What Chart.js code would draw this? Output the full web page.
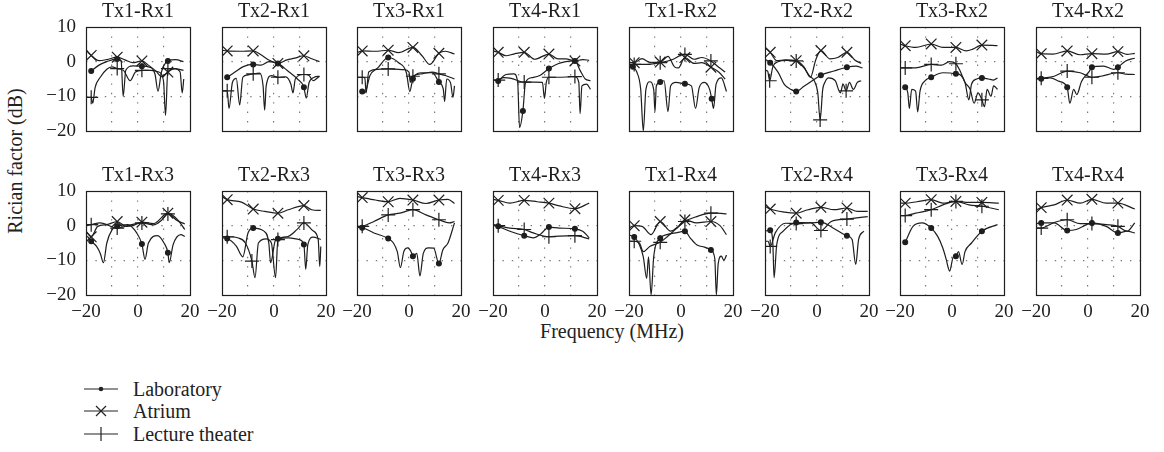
<!DOCTYPE html>
<html>
<head>
<meta charset="utf-8">
<title>Rician factor vs frequency</title>
<script src="https://cdn.jsdelivr.net/npm/chart.js@4.4.0/dist/chart.umd.min.js"></script>
<style>
  body { margin: 0; background: #fff; }
  #page { position: relative; width: 1164px; height: 452px; overflow: hidden;
          font-family: "Liberation Serif", "Times New Roman", serif; color: #222; }
  .panel { position: absolute; }
  #yTitle { position: absolute; left: 15px; top: 161px; font-size: 20px; white-space: nowrap;
            transform: translate(-50%, -50%) rotate(-90deg); }
  #xTitle { position: absolute; left: 612px; top: 331px; font-size: 20px; white-space: nowrap;
            transform: translate(-50%, -50%); }
  .key { position: absolute; left: 83px; height: 22px; }
  .key svg { position: absolute; left: 0; top: 1px; }
  .key span { position: absolute; left: 50px; top: 0; font-size: 20px; line-height: 22px; white-space: nowrap; }
</style>
</head>
<body>
<div id="page">
  <div id="yTitle">Rician factor (dB)</div>
  <div id="xTitle">Frequency (MHz)</div>
  <div class="key" style="top:378px">
    <svg width="36" height="20"><line x1="1" y1="10" x2="35" y2="10" stroke="#222" stroke-width="1.2"/><circle cx="18" cy="10" r="2.3" fill="#222"/></svg>
    <span>Laboratory</span>
  </div>
  <div class="key" style="top:400px">
    <svg width="36" height="20"><line x1="1" y1="10" x2="35" y2="10" stroke="#222" stroke-width="1.2"/><path d="M13 5 L23 15 M23 5 L13 15" stroke="#222" stroke-width="1.2"/></svg>
    <span>Atrium</span>
  </div>
  <div class="key" style="top:423px">
    <svg width="36" height="20"><line x1="1" y1="10" x2="35" y2="10" stroke="#222" stroke-width="1.2"/><path d="M18 3 L18 17" stroke="#222" stroke-width="1.2"/></svg>
    <span>Lecture theater</span>
  </div>
</div>

<script>
// panel order: row of Rx1/Rx2 on top, Rx3/Rx4 below
const panelTitles = ['Tx1-Rx1', 'Tx2-Rx1', 'Tx3-Rx1', 'Tx4-Rx1', 'Tx1-Rx2', 'Tx2-Rx2', 'Tx3-Rx2', 'Tx4-Rx2',
                     'Tx1-Rx3', 'Tx2-Rx3', 'Tx3-Rx3', 'Tx4-Rx3', 'Tx1-Rx4', 'Tx2-Rx4', 'Tx3-Rx4', 'Tx4-Rx4'];
const xTickLabels = [-20, 0, 20];
const yTickLabels = [10, 0, -10, -20];
// frequencies (MHz) where the series markers sit
const markerFreqs = [-18, -8, 1.5, 11.5];

// [frequency MHz, K factor dB]
const laboratory = [
  [[-18,-2.7],[-15,-1],[-12,0],[-8,0.8],[-6.5,0.3],[-5.7,-10],[-4.7,-2.5],[-2,-1.2],[1.5,-1.3],[4,-1.5],[6.5,-3.5],[7.7,-8.5],[9,-3],[11.5,0.2],[14.5,0.6],[17.5,0]],
  [[-18,-4.5],[-15,-3],[-12,-1.5],[-8,-0.8],[-5,-1],[-2,0],[1.5,-0.5],[5,-2.5],[9,-5],[11.5,-7.4],[12.4,-10.5],[13.5,-6],[15.5,-4.5],[17.5,-4.2]],
  [[-18,-8.6],[-17,-9],[-15,-4],[-12,-1.8],[-8,1.2],[-4,-0.3],[-1,-3.2],[0.3,-8.6],[1.5,-4.9],[5,-3.2],[9,-3.2],[11.5,-5.9],[13.2,-8],[13.7,-11.5],[14.5,-5],[16,-6.2],[16.9,-10.3],[17.5,-7]],
  [[-18,-5.6],[-15,-3.7],[-12,-3.5],[-10.5,-6],[-9.8,-19],[-8.5,-14.2],[-7.5,-6],[-5,-4.6],[-2,-4],[1.5,-2],[5,-0.6],[8,0],[11.5,0.2],[13.5,-2.5],[15.5,-5],[17.5,-5.5]],
  [[-18.5,-1.5],[-17,-3],[-15.5,-8],[-14.5,-20],[-13.5,-8],[-12,-5.8],[-10.5,-8],[-10,-14.4],[-9.5,-7],[-8,-5.9],[-6.5,-5.5],[-5,-14.4],[-4,-7],[-2,-6],[1.5,-6.4],[4,-7],[5.6,-13.5],[7,-7.5],[9,-6],[11,-8],[11.8,-10.7],[12.5,-13.5],[13.5,-6.5],[15.5,-4.7],[17.5,-8.6]],
  [[-20,0.7],[-18,-0.3],[-15,-3],[-12.5,-6.6],[-10,-8],[-8,-8.6],[-5,-7.1],[-1,-5.1],[1.5,-3.9],[6.5,-2.7],[11.5,-1.6],[15,-1.3],[17.5,-1.8]],
  [[-18,-7.4],[-17,-9],[-16.4,-13.5],[-15.5,-8],[-14,-8.5],[-13.2,-14.5],[-12.3,-8.5],[-10.5,-5.6],[-8,-4.5],[-3.5,-3.2],[1.5,-3.5],[3.5,-4],[5,-6],[6.5,-11],[7.5,-6.5],[9.5,-5],[11.5,-4.7],[14,-5],[16,-5.3],[17.5,-4.7]],
  [[-20,-5],[-18,-4.9],[-14.5,-4.7],[-11,-5.7],[-8,-7.4],[-7,-12],[-5.5,-8],[-4.3,-9.5],[-2.5,-5.7],[0.5,-2.8],[1.5,-1.6],[6,-1.3],[10,-2.2],[11.5,-1.6],[14.5,0.2],[18,1]],
  [[-19.5,-3],[-18,-4.5],[-16,-5.9],[-14.5,-8],[-13.3,-10.7],[-12,-5],[-10,-1.2],[-8,-0.2],[-4,0.3],[-0.5,-2.1],[1.5,-5.3],[2.7,-9.7],[4,-5],[7.5,-2.9],[10,-5],[11.5,-7.8],[12,-10.7],[13.5,-5.5],[16.5,-2.6],[18,-3.1]],
  [[-20,-3.5],[-18,-3.7],[-14.5,-5.9],[-12,-9],[-10,-2.1],[-8,-0.7],[-4,-1.5],[-2,-5],[-1.3,-10.7],[0.5,-4.3],[1.5,-3.8],[5.5,-3.5],[9.5,-4],[11.5,-5.4],[12.2,-12.6],[13,-5.5],[15,-3.3],[18,-4]],
  [[-20,-0.5],[-18,-0.6],[-13.5,-2.1],[-8,-3.7],[-6,-5],[-4.5,-7.5],[-3.3,-12.1],[-2,-7.5],[-0.5,-6.4],[0.8,-7.5],[1.5,-8.8],[3,-8],[4.2,-14.5],[5.5,-8],[7.5,-6.4],[9.5,-6.5],[11.5,-10.9],[13,-7],[15,-5],[17.5,0.8]],
  [[-20,0.3],[-18,-0.2],[-13.5,-1.6],[-8,-2.9],[-4.5,-3.5],[-1.5,-2.3],[1.5,-0.4],[5.5,-0.7],[11.5,-0.9],[14.5,-1.6],[17,-3.5]],
  [[-20,-2.7],[-18,-3.3],[-16,-5.5],[-14.5,-9],[-13.2,-15.2],[-12.5,-9],[-11.5,-20],[-10.5,-9],[-8,-3.6],[-5.5,-2.6],[-1.5,-2],[1.5,-1.6],[3.5,-3.5],[6,-5.5],[9,-6.2],[11.5,-7],[13,-9.5],[13.6,-20],[14.3,-11],[15.5,-8.8],[16.5,-10],[17.5,-8.5]],
  [[-20,-1.6],[-18,-1.3],[-17,-5],[-16.5,-15],[-15.5,-5.5],[-13,-1.6],[-8,0.9],[-3,0.8],[1.5,1],[6.5,-0.8],[11.5,-2.9],[13.5,-4],[14.9,-11.2],[16,-4],[18,-1.6]],
  [[-18,-4.8],[-15,-0.2],[-11.5,0.8],[-8,-0.7],[-5.5,-3.1],[-3.5,-6.5],[-2.2,-9.8],[-1.5,-12],[-0.9,-13.1],[0.5,-9],[1.5,-8.8],[2.5,-7.5],[3.9,-11.2],[5,-7.5],[7.5,-5],[11.5,-1.6],[17.5,0.3]],
  [[-20,0.6],[-18,0.8],[-13,0.8],[-8,-1.4],[-4.5,-1.1],[-0.5,0.3],[1.5,0.8],[7,-0.2],[11.5,-2.1],[15,-1.6],[18,-2.1]]
];

const atrium = [
  [[-20,3.5],[-18,1.8],[-15,0.3],[-12,0.6],[-8,1.3],[-5,0.5],[-2,-0.3],[1.5,0.2],[4,-1],[7,-2.8],[9,-4.3],[11.5,-3],[14,-2],[17.5,-2.5]],
  [[-20,3.3],[-18,3.1],[-13,3],[-8,3.1],[-5,2],[-2,0.5],[1.5,-0.5],[5,0.5],[8,1],[11.5,1.7],[14,1],[17.5,0]],
  [[-20,2.6],[-18,3.1],[-13,3],[-8,3.3],[-4,2.6],[1.5,4.1],[5,1.7],[8,-0.8],[11.5,2.4],[14,3],[17.5,2.2]],
  [[-20,3.1],[-18,2.7],[-15,1.7],[-12,2.2],[-8,2.7],[-4,0.7],[1.5,2.2],[5,0.8],[8,0.8],[11.5,0.2],[14.5,0.6],[17,0.4]],
  [[-20,-0.3],[-18,-0.3],[-15,0.9],[-12,-0.2],[-8,-0.1],[-5,1.5],[-2.5,-1.5],[-1,-1.8],[1.5,1.2],[5,-0.5],[8,-0.3],[11.5,-1.6],[14.5,-3],[17,-5]],
  [[-20,4.1],[-18,2.7],[-15.5,0.3],[-12,0.5],[-8,0.3],[-5,-1.5],[-2.5,-4.5],[-0.5,0.5],[1.5,3.2],[5,0.8],[8,1.2],[11.5,2.7],[14.5,0.5],[17,-0.5]],
  [[-20,5.1],[-18,4.6],[-14,4.1],[-8,5.1],[-3.5,4.1],[1.5,4.1],[5.5,3.1],[8,3.6],[11.5,4.8],[17.5,4.6]],
  [[-20,2.9],[-18,2.3],[-13.5,2.2],[-8,3.1],[-3,2],[1.5,2.3],[7,2.2],[11.5,2.9],[15,2.1],[18,2.4]],
  [[-20,-1.6],[-18,-3.2],[-15.5,-0.2],[-12,0.3],[-8,1.2],[-4.5,-0.2],[-2,0],[1.5,1],[6,0.6],[11.5,3.6],[15.5,1.5],[18,-1.1]],
  [[-20,8.4],[-18,7.5],[-12.5,6.8],[-8,4.8],[-3.5,4.1],[1.5,3.6],[5.5,4.6],[11.5,5.8],[14.5,4.6],[18,4.4]],
  [[-20,8.4],[-18,8.1],[-13,7.4],[-8,6.9],[-3.5,7.9],[1.5,7.4],[6.5,6.4],[11.5,7.4],[15,7.6],[17.5,6.4]],
  [[-20,7.6],[-18,7.3],[-13.5,6.5],[-8,7.3],[-3,6.9],[1.5,6.5],[5.5,5.7],[11.5,4.9],[17,6.5]],
  [[-20,-0.7],[-18,0],[-15,-0.2],[-11.5,-2.6],[-8,1.2],[-4,-1.6],[-1,-0.2],[1.5,1.7],[6,0.8],[11.5,1.2],[15,0],[17.5,-2.6]],
  [[-20,5.6],[-18,4.8],[-12.5,3.9],[-8,3.6],[-3.5,4.6],[1.5,5.3],[6.5,4.6],[11.5,5.1],[15.5,4.1],[19.5,4.1]],
  [[-20,6.5],[-18,6.5],[-13.5,6.9],[-8,7.5],[-3.5,6.5],[1.5,7],[6.5,6.7],[11.5,6.7],[18,6.5]],
  [[-20,4.5],[-18,5.2],[-13,6],[-8,7.4],[-3,6.5],[1.5,7.6],[7,6.5],[11.5,6.5],[18,4.8]]
];

const lectureTheater = [
  [[-20,-10.3],[-18,-10.3],[-17.4,-12],[-16.5,-7.5],[-14.5,-4.5],[-12,-2.2],[-10,-1.5],[-8,-2],[-5.5,-2.6],[-3,-5.5],[-1,-3],[1.5,-2.5],[5,-2.5],[8,-3],[9.8,-5.5],[10.6,-15.5],[11.5,-2],[14,-2],[16.2,-3],[17,-9],[17.6,-5]],
  [[-20,-8.4],[-18,-8.4],[-17.3,-13.5],[-16,-6],[-14.5,-4.8],[-13.2,-12.5],[-12,-4.5],[-10,-3.8],[-8,-3.5],[-5.5,-3.3],[-4.2,-7],[-3.6,-14],[-3,-7],[-1,-4],[1.5,-4.5],[4.5,-4.4],[6.5,-6.5],[7.3,-9],[8.2,-5],[11.5,-3.7],[13.5,-4],[15,-5.5],[17.5,-4.2]],
  [[-20,-4.5],[-18,-4.5],[-17,-4.6],[-16.5,-9],[-15.5,-3],[-12,-2.2],[-8,-2.1],[-2,-2.3],[0,-3],[0.5,-6],[1.5,-4.2],[5,-3.5],[9,-3],[11.5,-3.5],[14,-4],[17.5,-5]],
  [[-20,-5.3],[-18,-5.3],[-16,-4.6],[-13,-4.8],[-10,-5.6],[-8,-5.9],[-4,-5.9],[-1,-6],[-0.2,-10.6],[0.5,-6],[1.5,-4.5],[5,-4.5],[9,-4.4],[11.5,-4.3],[13,-6],[13.5,-15],[14.2,-7],[16,-6.5],[17.5,-8]],
  [[-20,-1],[-18,-0.8],[-13,-0.8],[-8,-0.3],[-3,0.7],[0,1.9],[1.5,2.1],[5,0.7],[8,1.2],[11.5,0.2],[14.5,-1.6],[17,-3]],
  [[-20,-2.5],[-19,-2.7],[-18.2,-5.5],[-17,-1.5],[-15,0],[-12,0.4],[-8,0.2],[-5,-1.8],[-3,-4],[-1,-5.6],[0.3,-9],[1.2,-16.8],[2.2,-8],[3,-6],[4.5,-4.7],[7,-5.5],[9,-9],[10,-6.5],[11.2,-8.4],[12.5,-6],[14,-8],[15.5,-6],[17,-5.5]],
  [[-20,-1.8],[-18,-1.8],[-14,-1.8],[-8,-0.8],[-4,-1],[-1,0],[1.5,-0.6],[3,-2.5],[5,-6],[7,-8],[8.5,-12],[10,-9],[11.5,-11],[12.5,-13],[13.5,-8],[15,-10],[16,-7],[17.5,-8]],
  [[-20,-5],[-18,-4.8],[-13,-4.2],[-8,-2.7],[-3,-3.2],[1.5,-4.5],[5,-4.2],[11.5,-3.2],[14.5,-3.6],[18,-3.7]],
  [[-20,0],[-18,0.3],[-14.5,0.8],[-8,-0.7],[-4,0],[1.5,0.8],[6,0.2],[9,1.5],[11.5,3.4],[15,1.5],[18,0.5]],
  [[-20,-3.2],[-18,-3.2],[-14,-3.5],[-11,-5],[-8.5,-10.2],[-7.3,-15],[-6,-5],[-3,-3.8],[-1,-5],[0.6,-15],[1.5,-4],[5,-3.2],[9,-1],[11.5,0.8],[15,-1.5],[17,-4],[17.6,-11.8],[18,-6]],
  [[-20,-0.6],[-18,-0.2],[-13.5,1.2],[-8,3.1],[-3.5,3.6],[1.5,4.6],[6.5,3.1],[11.5,1.7],[15.5,0.8],[17.5,1.2]],
  [[-20,0.3],[-18,0],[-13.5,-0.7],[-8,-1.1],[-4.5,-2.1],[1.5,-3.2],[5.5,-3],[11.5,-2.9],[17,-3.8]],
  [[-20,-4.5],[-18,-4.5],[-16,-5],[-14.5,-7.5],[-12,-6],[-8,-4.8],[-5,-3],[-2,-1],[1.5,1.2],[6,2.6],[11.5,3.6],[14,3.6],[17.5,3.4]],
  [[-20,-4.5],[-18.8,-4.5],[-18,-6],[-16,-2],[-12,0.7],[-8,0.6],[-2.5,0.9],[1.5,-1.4],[5.5,1.2],[11.5,1.9],[19.5,2.6]],
  [[-20,2.9],[-18,2.9],[-14,3.6],[-8,4.6],[-3.5,6],[1.5,7],[6.5,6],[11.5,5.6],[18,4.6]],
  [[-20,-0.7],[-18,-0.7],[-13,0.9],[-8,1.7],[-3,0.6],[1.5,0.6],[7,0.3],[11.5,-0.2],[15,-1.6],[18,0.8]]
];

const ink = '#1e1e1e';
const serif = '"Liberation Serif", "Times New Roman", serif';

// panel geometry in page pixels
const PLOT_W = 104, PLOT_H = 104;
const AXIS_W = 40, TITLE_H = 28, XAXIS_H = 30, PAD_R = 16;
const colLeft = i => 86 + i * 135.7;
const rowTop = [27, 191];

const fmt = v => (v < 0 ? '\u2212' + Math.abs(v) : String(v));

// indices of the points closest to each marker frequency
function markerIndices(points) {
  return markerFreqs.map(f => {
    let best = 0;
    points.forEach((p, i) => {
      if (Math.abs(p[0] - f) < Math.abs(points[best][0] - f)) best = i;
    });
    return best;
  });
}

function series(label, points, style, radius) {
  const marks = markerIndices(points);
  return {
    label: label,
    data: points.map(p => ({ x: p[0], y: p[1] })),
    borderColor: ink,
    borderWidth: 1.2,
    cubicInterpolationMode: 'monotone',
    pointStyle: style,
    pointRadius: points.map((p, i) => (marks.includes(i) ? radius : 0)),
    pointBorderColor: ink,
    pointBackgroundColor: ink,
    pointBorderWidth: 1.2
  };
}

// closed box around each plot area
const frame = {
  id: 'frame',
  afterDraw(chart) {
    const a = chart.chartArea, ctx = chart.ctx;
    ctx.save();
    ctx.strokeStyle = ink;
    ctx.lineWidth = 1.2;
    ctx.strokeRect(Math.round(a.left) + 0.5, Math.round(a.top) + 0.5, Math.round(a.right - a.left), Math.round(a.bottom - a.top));
    ctx.restore();
  }
};

function gridColor(edges) {
  return ctx => (ctx.tick && edges.includes(ctx.tick.value) ? 'rgba(0,0,0,0)' : '#7a7a7a');
}

const page = document.getElementById('page');

panelTitles.forEach((title, k) => {
  const row = Math.floor(k / 8), col = k % 8;
  const holder = document.createElement('div');
  holder.className = 'panel';
  holder.style.left = (colLeft(col) - AXIS_W) + 'px';
  holder.style.top = (rowTop[row] - TITLE_H) + 'px';
  const canvas = document.createElement('canvas');
  canvas.width = AXIS_W + PLOT_W + PAD_R;
  canvas.height = TITLE_H + PLOT_H + XAXIS_H;
  holder.appendChild(canvas);
  page.appendChild(holder);

  new Chart(canvas, {
    type: 'line',
    data: {
      datasets: [
        series('Laboratory', laboratory[k], 'circle', 2.4),
        series('Atrium', atrium[k], 'crossRot', 7.5),
        series('Lecture theater', lectureTheater[k], 'cross', 7)
      ]
    },
    options: {
      responsive: false,
      animation: false,
      events: [],
      layout: { padding: { left: 0, right: PAD_R, top: 0, bottom: 0 } },
      plugins: {
        legend: { display: false },
        tooltip: { enabled: false },
        title: {
          display: true,
          fullSize: false,
          text: title,
          color: ink,
          font: { family: serif, size: 20, weight: 'normal' },
          padding: { top: 1, bottom: TITLE_H - 1 - 20 * 1.2 }
        }
      },
      scales: {
        x: {
          type: 'linear',
          min: -20,
          max: 20,
          border: { display: false, dash: [1.4, 8] },
          grid: { color: gridColor([-20, 20]), lineWidth: 1.2, drawTicks: false },
          ticks: {
            display: row === 1,
            stepSize: 10,
            autoSkip: false,
            maxRotation: 0,
            padding: 6,
            color: ink,
            font: { family: serif, size: 19 },
            callback: v => (xTickLabels.includes(v) ? fmt(v) : '')
          },
          afterFit: s => { s.height = XAXIS_H; s.paddingLeft = 0; s.paddingRight = 0; }
        },
        y: {
          min: -20,
          max: 10,
          border: { display: false, dash: [1.4, 8] },
          grid: { color: gridColor([-20, 10]), lineWidth: 1.2, drawTicks: false },
          ticks: {
            display: col === 0,
            stepSize: 10,
            autoSkip: false,
            padding: 10,
            color: ink,
            font: { family: serif, size: 19 },
            callback: v => (yTickLabels.includes(v) ? fmt(v) : '')
          },
          afterFit: s => { s.width = AXIS_W; s.paddingTop = 0; s.paddingBottom = 0; }
        }
      }
    },
    plugins: [frame]
  });
});
</script>
</body>
</html>
